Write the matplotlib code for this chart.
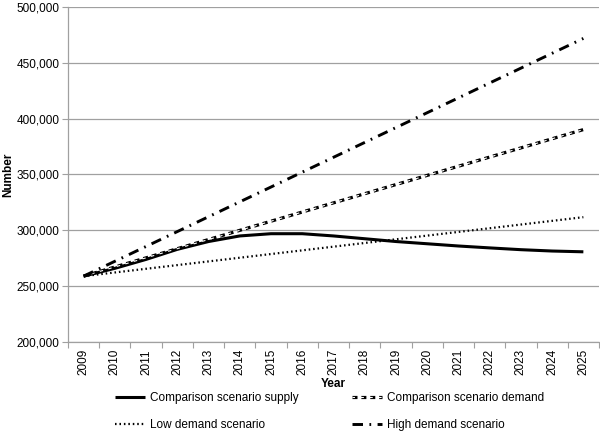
import matplotlib.pyplot as plt
from matplotlib.legend_handler import HandlerTuple

plt.rcParams["font.family"] = ["Liberation Sans", "DejaVu Sans"]

years = [str(y) for y in range(2009, 2026)]
supply = [259000, 266000, 274000, 283000, 290000, 295000, 297000, 297000, 295000,
          292500, 290000, 288000, 286000, 284300, 282700, 281500, 280800]
comp_demand = [259000, 267200, 275400, 283600, 291800, 300000, 308200, 316400, 324600,
               332800, 341000, 349200, 357400, 365600, 373800, 382000, 390200]
low_demand = [259000, 262300, 265600, 268900, 272200, 275500, 278800, 282100, 285400,
              288700, 292000, 295300, 298600, 301900, 305200, 308500, 311800]
high_demand = [259000, 272300, 285600, 298900, 312200, 325500, 338800, 352100, 365400,
               378700, 392000, 405300, 418600, 431900, 445200, 458500, 471800]
yticks = [200000, 250000, 300000, 350000, 400000, 450000, 500000]

fs = 8.5
fig = plt.figure(figsize=(6.0, 4.33), dpi=100)
ax = fig.add_axes([0.1133, 0.210, 0.885, 0.774])
x = list(range(len(years)))


def dashes(lw, *pts):
    # dash lengths in points, independent of line width
    return tuple(p / lw for p in pts)


ln_supply, = ax.plot(x, supply, color="black", lw=2.2, solid_capstyle="butt")
ln_low, = ax.plot(x, low_demand, color="black", lw=1.6, linestyle=(0, (0.7, 1.3)))
# double-outline dashes: black dash with a thinner white dash inside
ln_comp_out, = ax.plot(x, comp_demand, color="black", lw=2.3,
                       linestyle=(0, dashes(2.3, 3.6, 2.8)))
ln_comp_in, = ax.plot(x, comp_demand, color="white", lw=0.8,
                      linestyle=(0.6 / 0.8, dashes(0.8, 2.4, 4.0)))
ln_high, = ax.plot(x, high_demand, color="black", lw=2.1,
                   linestyle=(0, (3.6, 2.2, 0.6, 2.2)))

ax.set_xlim(-0.5, len(years) - 0.5)
ax.set_ylim(200000, 500000)
ax.set_yticks(yticks)
ax.set_yticklabels([f"{v:,}" for v in yticks])
ax.set_xticks(x)
ax.set_xticklabels(years, rotation=90)
ax.set_xticks([i - 0.5 for i in range(len(years) + 1)], minor=True)
ax.tick_params(axis="x", which="major", length=0, pad=5, labelsize=fs)
ax.tick_params(axis="x", which="minor", length=4, color="#a0a0a0", width=0.8)
ax.tick_params(axis="y", length=4, color="#a0a0a0", width=0.8, labelsize=fs, pad=2)
ax.grid(axis="y", color="#a0a0a0", lw=0.9)
ax.set_axisbelow(True)
for side in ["top", "right"]:
    ax.spines[side].set_visible(False)
for side in ["left", "bottom"]:
    ax.spines[side].set_color("#a0a0a0")
    ax.spines[side].set_linewidth(0.9)

ax.set_ylabel("Number", fontweight="bold", fontsize=fs, labelpad=2)
ax.set_xlabel("Year", fontweight="bold", fontsize=fs, labelpad=2)

handles = [ln_supply, ln_low, (ln_comp_out, ln_comp_in), ln_high]
labels = ["Comparison scenario supply", "Low demand scenario",
          "Comparison scenario demand", "High demand scenario"]
fig.legend(handles, labels, ncol=2, frameon=False,
           handler_map={tuple: HandlerTuple(ndivide=1)},
           loc="upper left", bbox_to_anchor=(0.181, 0.108), borderpad=0,
           fontsize=fs, handlelength=2.6, handletextpad=0.4,
           columnspacing=4.5, labelspacing=1.3)

fig.savefig("out.png", dpi=100)
